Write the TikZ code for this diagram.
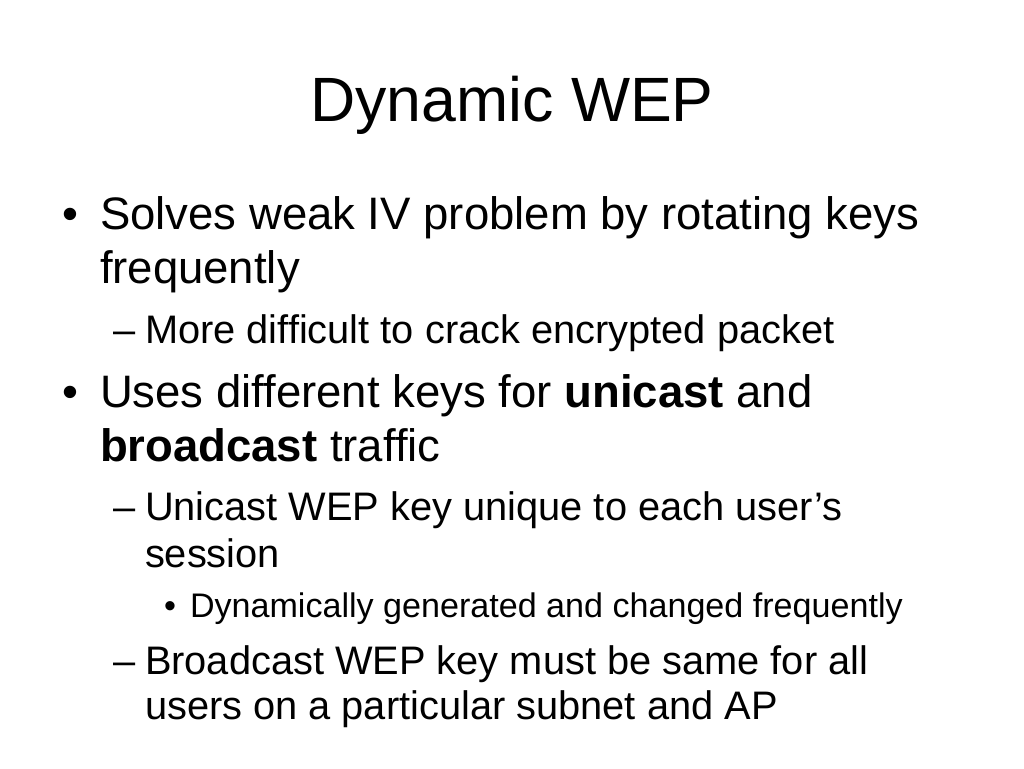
\documentclass[tikz,border=0pt]{standalone}
\usepackage{fontspec}
\setmainfont{Liberation Sans}
\usepackage{xcolor}

\begin{document}
\begin{tikzpicture}[x=1pt, y=-1pt,
    every node/.style={inner sep=0pt, outer sep=0pt, anchor=base west},
    titletext/.style={font=\fontsize{62.6}{70}\selectfont, anchor=base},
    levelone/.style={font=\fontsize{45.5}{50}\selectfont},
    leveltwo/.style={font=\fontsize{39.8}{44}\selectfont},
    levelthree/.style={font=\fontsize{34.1}{38}\selectfont}]
      \useasboundingbox[fill=white] (0,0) rectangle (1024,768);

      \node[titletext] (title) at (512,121) {Dynamic WEP};

      % first bullet
      \node[levelone] (dotA) at (62,229) {•};
      \node[levelone] (solves) at (100,229) {Solves weak IV problem by rotating keys};
      \node[levelone] (solvesb) at (100,283) {frequently};
      \node[leveltwo] (dashA) at (113,343) {–};
      \node[leveltwo] (crack) at (145,343) {More difficult to crack encrypted packet};

      % second bullet
      \node[levelone] (dotB) at (62,407) {•};
      \node[levelone] (uses) at (100,407) {Uses different keys for \textbf{unicast} and};
      \node[levelone] (usesb) at (100,461) {\textbf{broadcast} traffic};
      \node[leveltwo] (dashB) at (113,520) {–};
      \node[leveltwo] (unicast) at (145,520) {Unicast WEP key unique to each user’s};
      \node[leveltwo] (unicastb) at (145,567) {session};
      \node[levelthree] (dotC) at (164,617) {•};
      \node[levelthree] (dynamic) at (190,617) {Dynamically generated and changed frequently};
      \node[leveltwo] (dashC) at (113,674) {–};
      \node[leveltwo] (bcast) at (145,674) {Broadcast WEP key must be same for all};
      \node[leveltwo] (bcastb) at (145,719) {users on a particular subnet and AP};
    \end{tikzpicture}
\end{document}
